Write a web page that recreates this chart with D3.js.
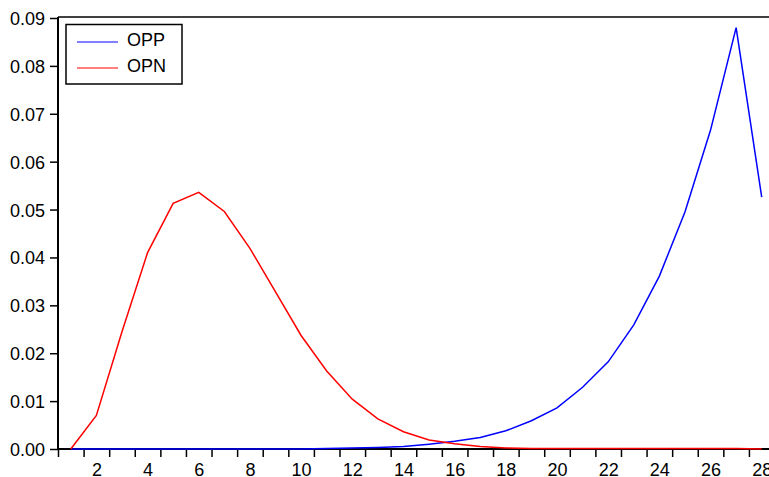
<!DOCTYPE html>
<html>
<head>
<meta charset="utf-8">
<script src="https://cdn.jsdelivr.net/npm/d3@7"></script>
<style>
  html, body { margin: 0; padding: 0; background: #fff; }
  svg { display: block; font-family: "Liberation Sans", Arial, sans-serif; }
</style>
</head>
<body>
<svg id="chart" width="769" height="477"></svg>
<script>
// categories 1..28
const categories = d3.range(1, 29);

const opp = [
  0.0000, 0.0000, 0.0000, 0.0000, 0.0000, 0.0000, 0.0000, 0.0000, 0.0000, 0.0000,
  0.0001, 0.0002, 0.0003, 0.0005, 0.0010, 0.0016, 0.0024, 0.0038, 0.0059, 0.0086,
  0.0129, 0.0182, 0.0259, 0.0361, 0.0495, 0.0666, 0.0880, 0.0526,
];

const opn = [
  0.0000, 0.0070, 0.0245, 0.0410, 0.0513, 0.0536, 0.0496, 0.0419, 0.0328, 0.0237,
  0.0163, 0.0104, 0.0063, 0.0036, 0.0019, 0.0011, 0.0005, 0.0002, 0.0001, 0.0001,
  0.0001, 0.0001, 0.0001, 0.0001, 0.0001, 0.0001, 0.0001, 0.0000,
];

const yTicks = [0, 0.01, 0.02, 0.03, 0.04, 0.05, 0.06, 0.07, 0.08, 0.09];
const xLabels = [2, 4, 6, 8, 10, 12, 14, 16, 18, 20, 22, 24, 26, 28];

const series = [
  { name: 'OPP', color: '#0000ff', values: opp },
  { name: 'OPN', color: '#ff0000', values: opn },
];

const svg = d3.select('#chart');
const plotLeft = 58;
const plotTop = 17;
const plotBottom = 449;
const step = 25.59;

const x = d3.scaleLinear().domain([0.5, 28.5]).range([plotLeft, plotLeft + 28 * step]);
const y = d3.scaleLinear().domain([0, 0.09]).range([plotBottom, 18]);

// top frame
svg.append('line')
  .attr('x1', plotLeft).attr('x2', 769)
  .attr('y1', plotTop).attr('y2', plotTop)
  .attr('stroke', '#000').attr('stroke-width', 1.5);

// y axis
const yAxis = svg.append('g')
  .attr('transform', `translate(${plotLeft},0)`)
  .call(d3.axisLeft(y).tickValues(yTicks).tickFormat(d3.format('.2f')).tickSize(8).tickPadding(5));
yAxis.select('.domain').remove();
yAxis.selectAll('.tick line').attr('stroke-width', 1.5);
yAxis.selectAll('text').attr('font-size', 18).attr('fill', '#000').attr('dy', '0.36em');
svg.append('line')
  .attr('x1', plotLeft).attr('x2', plotLeft)
  .attr('y1', plotTop).attr('y2', plotBottom + 1)
  .attr('stroke', '#000').attr('stroke-width', 2);

// x axis ticks at category boundaries
const xTickAxis = svg.append('g')
  .attr('transform', `translate(0,${plotBottom})`)
  .call(d3.axisBottom(x).tickValues(d3.range(0.5, 29, 1)).tickFormat('').tickSize(8));
xTickAxis.select('.domain').remove();
xTickAxis.selectAll('.tick line').attr('stroke-width', 1.5);

// labels on even categories, bottoms kept just inside the frame
const xLabelAxis = svg.append('g')
  .attr('transform', `translate(0,${plotBottom})`)
  .call(d3.axisBottom(x).tickValues(xLabels).tickSize(0).tickPadding(14));
xLabelAxis.select('.domain').remove();
xLabelAxis.selectAll('text').attr('font-size', 18).attr('fill', '#000');

svg.append('line')
  .attr('x1', plotLeft).attr('x2', 769)
  .attr('y1', plotBottom).attr('y2', plotBottom)
  .attr('stroke', '#000').attr('stroke-width', 2);

// lines
const line = d3.line()
  .x((d, i) => x(categories[i]))
  .y((d) => y(d));

series.forEach((s) => {
  svg.append('path')
    .datum(s.values)
    .attr('fill', 'none')
    .attr('stroke', s.color)
    .attr('stroke-width', 1.5)
    .attr('d', line);
});

// legend
const legend = svg.append('g');
legend.append('rect')
  .attr('x', 66).attr('y', 24.5)
  .attr('width', 116).attr('height', 59.5)
  .attr('fill', '#fff').attr('stroke', '#000').attr('stroke-width', 1.5);

series.forEach((s, i) => {
  const ly = 42 + i * 26;
  legend.append('line')
    .attr('x1', 77).attr('x2', 118)
    .attr('y1', ly).attr('y2', ly)
    .attr('stroke', s.color).attr('stroke-width', 1.2);
  legend.append('text')
    .attr('x', 127).attr('y', ly + 3.5)
    .attr('font-size', 18)
    .text(s.name);
});
</script>
</body>
</html>
